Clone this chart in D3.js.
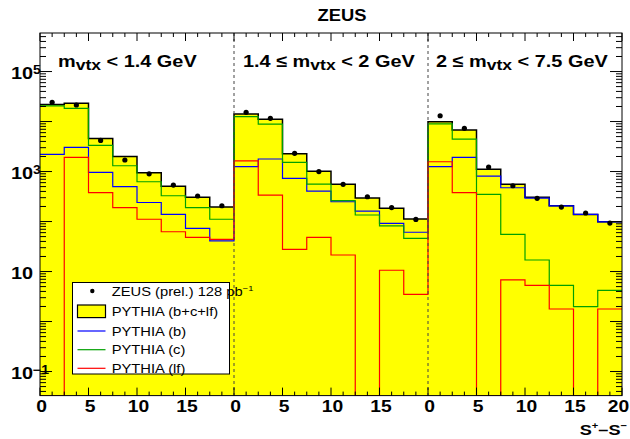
<!DOCTYPE html>
<html>
<head>
<meta charset="utf-8">
<script src="https://cdn.jsdelivr.net/npm/d3@7"></script>
<style>
html,body{margin:0;padding:0;background:#fff;}
svg{display:block;}
text{font-family:"Liberation Sans",Arial,Helvetica,sans-serif;}
</style>
</head>
<body>
<svg id="chart" width="630" height="439"></svg>
<script>
// ---------------- DATA ----------------
const panelLabels = [
  {pre: "", post: " < 1.4 GeV"},
  {pre: "1.4 \u2264 ", post: " < 2 GeV"},
  {pre: "2 \u2264 ", post: " < 7.5 GeV"}
];
const panelStart = [0, 20, 40];                    // each panel spans S+ - S- from 0 to 20
const binLow = [0, 2.5, 5, 7.5, 10, 12.5, 15, 17.5]; // bin lower edges inside a panel
const binWidth = 2.5;

// ZEUS (prel.) 128 pb^-1 data points (3 panels x 8 bins)
const zeusData = [
  24200, 21400, 4200, 1700, 900, 537, 324, 207,
  15300, 11600, 2310, 1000, 555, 313, 190, 110,
  13060, 7310, 1230, 520, 291, 195, 148, 93
];
// PYTHIA (b+c+lf)
const pythiaTotal = [
  22000, 23100, 4600, 2000, 950, 510, 305, 195,
  14100, 11060, 2270, 1010, 555, 295, 185, 112,
  9900, 6760, 1107, 555, 305, 207, 139, 99
];
// PYTHIA (b)
const pythiaB = [
  2210, 3050, 964, 497, 240, 139, 73, 41,
  1250, 1780, 731, 407, 249, 162, 92, 61,
  1250, 1920, 813, 474, 295, 205, 139, 98
];
// PYTHIA (c)
const pythiaC = [
  20500, 18400, 3340, 1306, 625, 328, 189, 111,
  12500, 8900, 1530, 562, 261, 135, 82, 46,
  9000, 4450, 350, 55.5, 17, 5.3, 1.98, 4.2
];
// PYTHIA (lf)
const pythiaLF = [
  0, 1920, 377, 189, 111, 62.5, 48, 44,
  1640, 339, 27.8, 48, 21.4, 0, 10.6, 3.5,
  1570, 377, 0, 6.8, 5.3, 1.78, 0, 1.78
];
const xTickValues = [0, 5, 10, 15, 20, 25, 30, 35, 40, 45, 50, 55, 60];
const xTickLabels = ["0", "5", "10", "15", "0", "5", "10", "15", "0", "5", "10", "15", "20"];
const yLabelExps = [-1, 1, 3, 5];

// ---------------- LAYOUT ----------------
const svg = d3.select("#chart");
const L = 40, R = 622, T = 33, B = 395.6;
const SX = 1.17; // horizontal stretch of the fonts in the reference
const yMin = 0.033, yMax = 5.9e5;
const x = d3.scaleLinear().domain([0, 60]).range([L, R]);
const y = d3.scaleLog().domain([yMin, yMax]).range([B, T]);
const yc = v => y(Math.max(v, yMin));

// bin lower edges for the full 24-bin axis
const edges = [];
panelStart.forEach(p => binLow.forEach(b => edges.push(p + b)));

function stepPoints(vals) {
  const pts = vals.map((v, i) => [edges[i], v]);
  pts.push([edges[edges.length - 1] + binWidth, vals[vals.length - 1]]);
  return pts;
}

svg.append("defs").append("clipPath").attr("id", "plotclip")
  .append("rect").attr("x", L).attr("y", T).attr("width", R - L).attr("height", B - T);

const plot = svg.append("g").attr("clip-path", "url(#plotclip)");

// yellow filled total
const area = d3.area().curve(d3.curveStepAfter)
  .x(d => x(d[0])).y0(B).y1(d => yc(d[1]));
plot.append("path").attr("d", area(stepPoints(pythiaTotal)))
  .attr("fill", "#ffff00").attr("stroke", "none");

const line = d3.line().curve(d3.curveStepAfter)
  .x(d => x(d[0])).y(d => yc(d[1]));

// black outline of total
plot.append("path").attr("d", line(stepPoints(pythiaTotal)))
  .attr("fill", "none").attr("stroke", "#000").attr("stroke-width", 1.5);

const comps = [
  {vals: pythiaB, color: "#0000ff"},
  {vals: pythiaC, color: "#00a000"},
  {vals: pythiaLF, color: "#ff0000"}
];
comps.forEach(c => {
  plot.append("path").attr("d", line(stepPoints(c.vals)))
    .attr("fill", "none").attr("stroke", c.color).attr("stroke-width", 1.2);
});

// dashed panel separators
[20, 40].forEach(v => {
  svg.append("line").attr("x1", x(v)).attr("x2", x(v)).attr("y1", T).attr("y2", B)
    .attr("stroke", "#444").attr("stroke-width", 1).attr("stroke-dasharray", "3,3");
});

// data points
svg.append("g").selectAll("circle").data(zeusData).join("circle")
  .attr("cx", (d, i) => x(edges[i] + binWidth / 2))
  .attr("cy", d => y(d))
  .attr("r", 2.6).attr("fill", "#000");

// frame
svg.append("rect").attr("x", L).attr("y", T).attr("width", R - L).attr("height", B - T)
  .attr("fill", "none").attr("stroke", "#000").attr("stroke-width", 1);

// ---------------- AXES ----------------
const axG = svg.append("g").attr("stroke", "#000").attr("stroke-width", 1);
// x ticks (major every 5, minor every 1.25), bottom and top, inward
for (let i = 0; i <= 48; i++) {
  const v = i * 1.25;
  const len = (i % 4 === 0) ? 8 : 4;
  const xp = x(v);
  axG.append("line").attr("x1", xp).attr("x2", xp).attr("y1", B).attr("y2", B - len);
  axG.append("line").attr("x1", xp).attr("x2", xp).attr("y1", T).attr("y2", T + len);
}
// y ticks log: decades long, 2..9 short, left and right
for (let e = -2; e <= 6; e++) {
  for (let m = 1; m <= 9; m++) {
    const v = m * Math.pow(10, e);
    if (v < yMin || v > yMax) continue;
    const yp = y(v);
    const len = m === 1 ? 12 : 6;
    axG.append("line").attr("x1", L).attr("x2", L + len).attr("y1", yp).attr("y2", yp);
    axG.append("line").attr("x1", R).attr("x2", R - len).attr("y1", yp).attr("y2", yp);
  }
}

// stretched text helper
function stext(parent, xp, yp, anchor) {
  return parent.append("g").attr("transform", `translate(${xp},${yp}) scale(${SX},1)`)
    .append("text").attr("x", 0).attr("y", 0).attr("text-anchor", anchor || "start");
}

// x tick labels
xTickValues.forEach((v, i) => {
  const xp = i === xTickValues.length - 1 ? x(v) - 3.5 : x(v) + 1.5;
  stext(svg, xp, 412, "middle")
    .attr("font-size", 16.5).attr("font-weight", "bold").text(xTickLabels[i]);
});
// y tick labels
yLabelExps.forEach(e => {
  const yp = y(Math.pow(10, e));
  const t = stext(svg, 11, yp + 7.5, "start").attr("font-size", 17).attr("font-weight", "bold");
  t.append("tspan").text("10");
  if (e !== 1) {
    t.append("tspan").attr("font-size", 12).attr("dy", -5)
      .text(e < 0 ? "\u2212" + Math.abs(e) : String(e));
  }
});

// axis title S+ - S-
{
  const t = stext(svg, 627, 435, "end").attr("font-size", 15.5).attr("font-weight", "bold");
  t.append("tspan").text("S");
  t.append("tspan").attr("font-size", 9.5).attr("dy", -6.5).text("+");
  t.append("tspan").attr("dy", 6.5).text("\u2013S");
  t.append("tspan").attr("font-size", 9.5).attr("dy", -6.5).text("\u2212");
}

// title
stext(svg, 342, 20.5, "middle").attr("font-size", 15.7).attr("font-weight", "bold").text("ZEUS");

// panel labels
const labelX = [58, 243, 436];
panelLabels.forEach((p, i) => {
  const t = stext(svg, labelX[i], 66.5, "start").attr("font-size", 17).attr("font-weight", "bold");
  if (p.pre) t.append("tspan").text(p.pre);
  t.append("tspan").text("m");
  t.append("tspan").attr("font-size", 15).attr("dy", 3).text("vtx");
  t.append("tspan").attr("dy", -3).text(p.post);
});

// ---------------- LEGEND ----------------
const lg = svg.append("g");
lg.append("rect").attr("x", 72.5).attr("y", 282.5).attr("width", 157).attr("height", 91.5)
  .attr("fill", "#fff").attr("stroke", "#000").attr("stroke-width", 1);
const legendItems = [
  {type: "dot", label: "ZEUS (prel.) 128 pb", sup: "\u22121", cy: 291},
  {type: "box", label: "PYTHIA (b+c+lf)", cy: 311.3},
  {type: "line", color: "#0000ff", label: "PYTHIA (b)", cy: 331},
  {type: "line", color: "#00a000", label: "PYTHIA (c)", cy: 349.7},
  {type: "line", color: "#ff0000", label: "PYTHIA (lf)", cy: 368.3}
];
legendItems.forEach(it => {
  if (it.type === "dot") {
    lg.append("circle").attr("cx", 92.3).attr("cy", it.cy).attr("r", 2.2).attr("fill", "#000");
  } else if (it.type === "box") {
    lg.append("rect").attr("x", 77.5).attr("y", it.cy - 6.3).attr("width", 28).attr("height", 12.6)
      .attr("fill", "#ffff00").attr("stroke", "#000").attr("stroke-width", 1.2);
  } else {
    lg.append("line").attr("x1", 77.5).attr("x2", 105.5).attr("y1", it.cy).attr("y2", it.cy)
      .attr("stroke", it.color).attr("stroke-width", 1.2);
  }
  const t = stext(lg, 111.7, it.cy + 4.6, "start").attr("font-size", 12.6).attr("fill", "#000");
  t.append("tspan").text(it.label);
  if (it.sup) t.append("tspan").attr("font-size", 8).attr("dy", -5).text(it.sup);
});
</script>
</body>
</html>
